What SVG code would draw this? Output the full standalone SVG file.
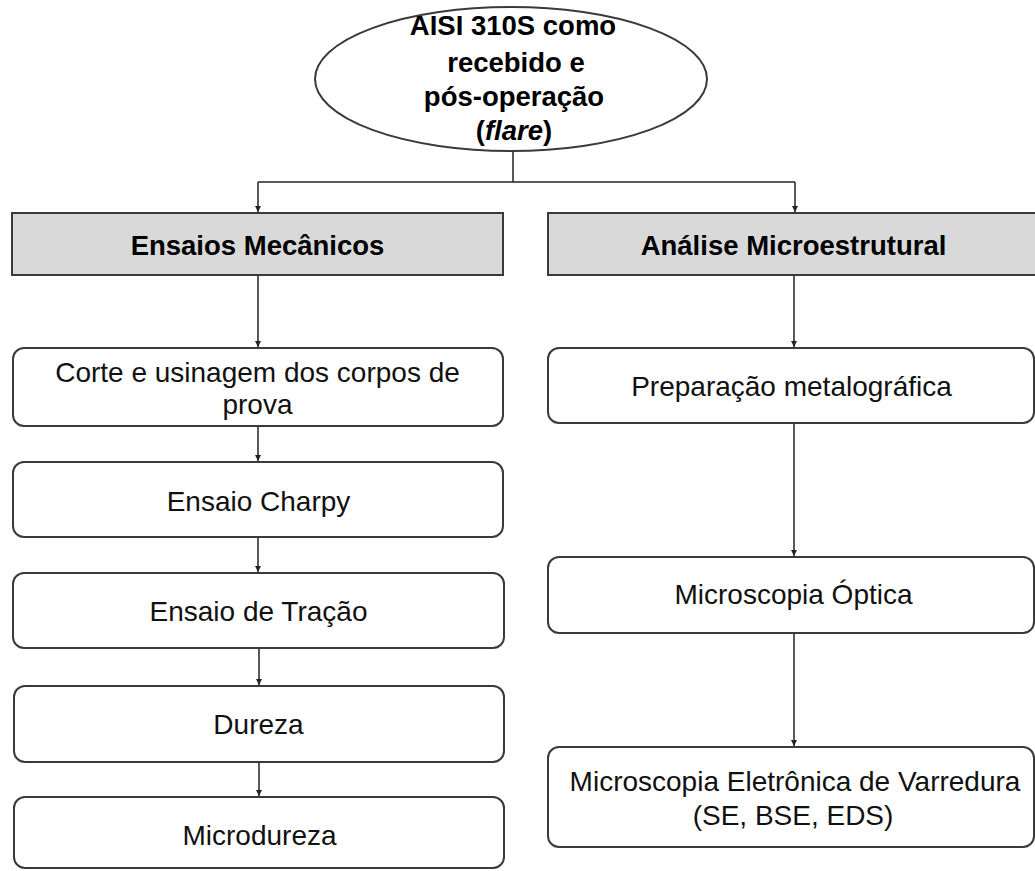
<svg xmlns="http://www.w3.org/2000/svg" width="1035" height="871" viewBox="0 0 1035 871">
<defs>
<style>
.box{fill:#fff;stroke:#3a3a3a;stroke-width:2}
.hdr{fill:#d9d9d9;stroke:#3a3a3a;stroke-width:2}
.ell{fill:#fff;stroke:#3a3a3a;stroke-width:2}
.t{font-family:"Liberation Sans",Arial,sans-serif;font-size:28px;fill:#111;text-anchor:middle}
.b{font-family:"Liberation Sans",Arial,sans-serif;font-size:27.5px;font-weight:bold;fill:#000;text-anchor:middle}
.c{fill:none;stroke:#222;stroke-width:1.5}
</style>
<marker id="ah" viewBox="0 0 10 10" refX="10" refY="5" markerWidth="6" markerHeight="6" markerUnits="userSpaceOnUse" orient="auto">
<path d="M0,0 L10,5 L0,10 z" fill="#222"/>
</marker>
</defs>
<rect width="1035" height="871" fill="#fff"/>
<g id="connectors">
<path class="c" d="M513,152 V182"/>
<path class="c" d="M258,182 H795"/>
<path class="c" d="M258,182 V212" marker-end="url(#ah)"/>
<path class="c" d="M795,182 V212" marker-end="url(#ah)"/>
<path class="c" d="M258,275 V347" marker-end="url(#ah)"/>
<path class="c" d="M258,426 V461" marker-end="url(#ah)"/>
<path class="c" d="M258,537 V572" marker-end="url(#ah)"/>
<path class="c" d="M259,648 V685" marker-end="url(#ah)"/>
<path class="c" d="M259,762 V796" marker-end="url(#ah)"/>
<path class="c" d="M794,275 V347" marker-end="url(#ah)"/>
<path class="c" d="M794,423 V556" marker-end="url(#ah)"/>
<path class="c" d="M794,633 V746" marker-end="url(#ah)"/>
</g>
<g id="n-root">
<ellipse class="ell" cx="511" cy="79" rx="196" ry="72"/>
<text class="b" x="513" y="35">AISI 310S como</text>
<text class="b" x="516" y="72">recebido e</text>
<text class="b" x="514" y="106">pós-operação</text>
<text class="b" x="514" y="140">(<tspan font-style="italic">flare</tspan>)</text>
</g>
<g id="n-ensaios">
<rect class="hdr" x="12" y="213" width="491" height="62"/>
<text class="b" x="257.5" y="255">Ensaios Mecânicos</text>
</g>
<g id="n-analise">
<rect class="hdr" x="548" y="213" width="490" height="62"/>
<text class="b" x="793.5" y="255">Análise Microestrutural</text>
</g>
<g id="n-corte">
<rect class="box" x="13" y="348" width="490" height="78" rx="11"/>
<text class="t" x="257.5" y="382">Corte e usinagem dos corpos de</text>
<text class="t" x="257.5" y="414">prova</text>
</g>
<g id="n-charpy">
<rect class="box" x="13" y="462" width="490" height="75" rx="11"/>
<text class="t" x="258.5" y="511">Ensaio Charpy</text>
</g>
<g id="n-tracao">
<rect class="box" x="13" y="573" width="491" height="75" rx="11"/>
<text class="t" x="258.5" y="621">Ensaio de Tração</text>
</g>
<g id="n-dureza">
<rect class="box" x="14" y="686" width="490" height="76" rx="11"/>
<text class="t" x="258.5" y="734">Dureza</text>
</g>
<g id="n-microdureza">
<rect class="box" x="14" y="797" width="490" height="71" rx="11"/>
<text class="t" x="259.5" y="845">Microdureza</text>
</g>
<g id="n-preparacao">
<rect class="box" x="548" y="348" width="486" height="75" rx="11"/>
<text class="t" x="791.5" y="396">Preparação metalográfica</text>
</g>
<g id="n-mo">
<rect class="box" x="548" y="557" width="486" height="76" rx="11"/>
<text class="t" x="793.5" y="604">Microscopia Óptica</text>
</g>
<g id="n-mev">
<rect class="box" x="548" y="747" width="486" height="100" rx="11"/>
<text class="t" x="795" y="791">Microscopia Eletrônica de Varredura</text>
<text class="t" x="793" y="825">(SE, BSE, EDS)</text>
</g>
</svg>
